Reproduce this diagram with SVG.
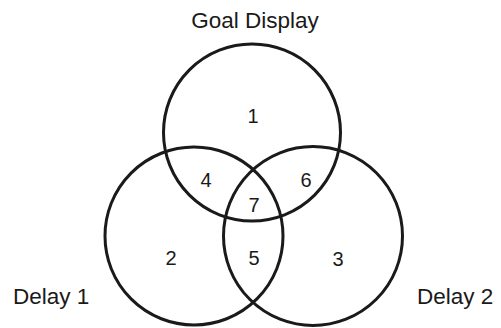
<svg xmlns="http://www.w3.org/2000/svg" width="501" height="328" viewBox="0 0 501 328">
<style>
.c{fill:none;stroke:#1a1a1a;stroke-width:3}
.t{font-family:"Liberation Sans",Arial,sans-serif;font-size:22.5px;fill:#1a1a1a}
.n{font-family:"Liberation Sans",Arial,sans-serif;font-size:20px;fill:#1a1a1a;text-anchor:middle}
</style>
<rect width="501" height="328" fill="#fff"/>
<g id="goal"><circle class="c" cx="252" cy="132.5" r="88.5"/></g>
<g id="delay1"><circle class="c" cx="194" cy="236" r="89"/></g>
<g id="delay2"><circle class="c" cx="313" cy="236" r="89.5"/></g>
<g id="labels">
<text class="t" x="255" y="28" text-anchor="middle">Goal Display</text>
<text class="t" x="13" y="304">Delay 1</text>
<text class="t" x="417" y="304">Delay 2</text>
</g>
<g id="regions">
<text class="n" x="253" y="123">1</text>
<text class="n" x="171" y="265">2</text>
<text class="n" x="338" y="266">3</text>
<text class="n" x="206" y="187">4</text>
<text class="n" x="254" y="265">5</text>
<text class="n" x="306" y="186.5">6</text>
<text class="n" x="254" y="211.5">7</text>
</g>
</svg>
